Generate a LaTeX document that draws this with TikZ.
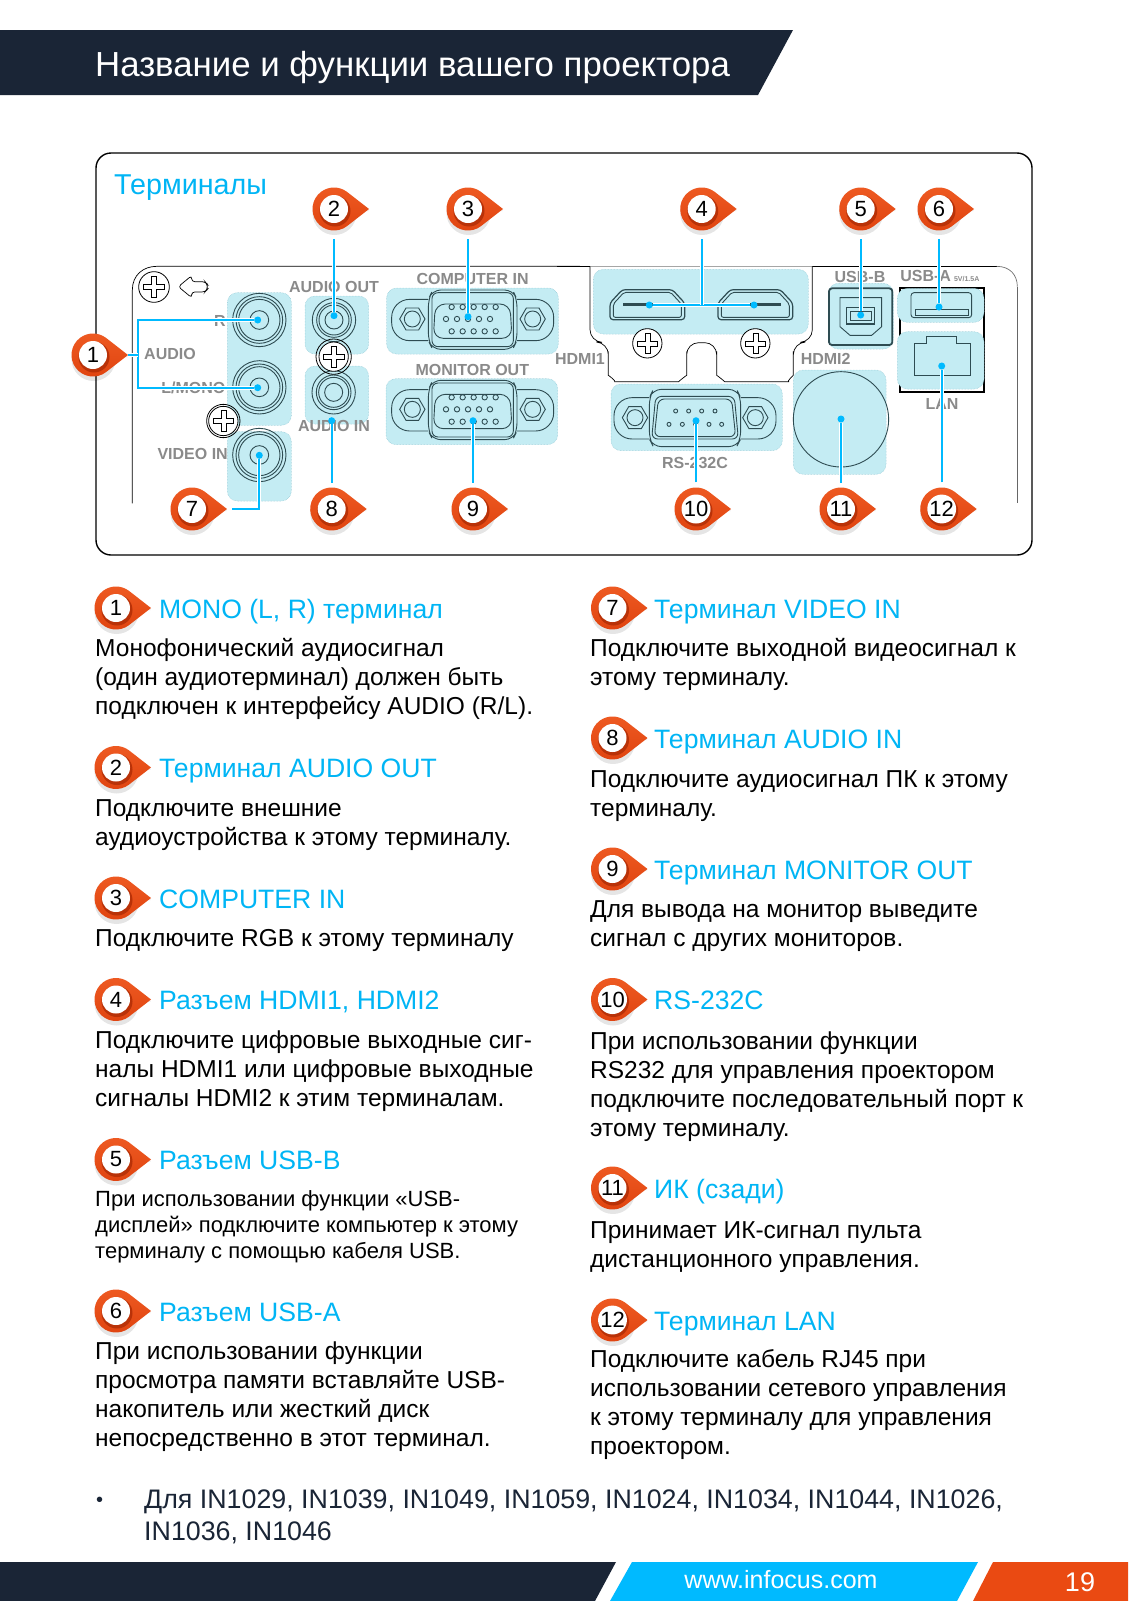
\documentclass[tikz,border=0pt]{standalone}
\usepackage{fontspec}
\setmainfont{Liberation Sans}
\definecolor{navy}{HTML}{1A2536}
\definecolor{skyblue}{HTML}{00BAFF}
\definecolor{headblue}{HTML}{00B5F5}
\definecolor{flame}{HTML}{EA4A12}
\definecolor{flamehi}{HTML}{EE5A22}
\definecolor{flamelo}{HTML}{DF430F}
\definecolor{flamedark}{HTML}{B93208}
\definecolor{patchblue}{HTML}{C4ECF3}
\definecolor{patchedge}{HTML}{8CC6D2}
\definecolor{porteal}{HTML}{2E4C52}
\definecolor{labelgray}{HTML}{8A8A8A}
\tikzset{
  inpanel/.style={scale=1/3},
  pintext/.style={circle,fill=white,minimum size=28pt,inner sep=0pt,font=\fontsize{22}{22}\selectfont},
  leader/.style={draw=white,double=skyblue,double distance=1.7pt,line width=1.2pt},
  jackdot/.style={circle,fill=skyblue,minimum size=7pt,inner sep=0pt},
  patch/.style={fill=patchblue,draw=patchedge,densely dotted,line width=.5pt,rounded corners=10pt},
  portline/.style={draw=porteal,line width=.9pt},
  panellabel/.style={font=\fontsize{16}{16}\selectfont\bfseries,text=labelgray,inner sep=0pt},
  headtext/.style={font=\fontsize{26.6}{30}\selectfont,text=headblue,anchor=base west,inner sep=0pt},
  bodytext/.style={font=\fontsize{24.5}{29}\selectfont,anchor=north west,align=left,inner sep=0pt,
    execute at begin node={\rule{0pt}{19pt}}},
  smalltext/.style={font=\fontsize{22}{26}\selectfont,anchor=north west,align=left,inner sep=0pt,
    execute at begin node={\rule{0pt}{19pt}}},
  notetext/.style={font=\fontsize{26.8}{32}\selectfont,text=navy,anchor=north west,align=left,inner sep=0pt,
    execute at begin node={\rule{0pt}{22pt}}},
  screwhead/.pic={
    \draw[line width=.8pt,fill=white] (0,0) circle (1);
    \draw[line width=.6pt] (-.17,-.7)--(.17,-.7)--(.17,-.17)--(.7,-.17)--(.7,.17)--(.17,.17)
      --(.17,.7)--(-.17,.7)--(-.17,.17)--(-.7,.17)--(-.7,-.17)--(-.17,-.17)--cycle;
  },
  rcajack/.pic={
    \draw[portline] (0,0) circle (80);
    \draw[portline] (0,0) circle (70);
    \draw[portline] (0,0) circle (62);
    \draw[portline] (0,0) circle (28);
  },
  miniplug/.pic={
    \draw[portline] (0,0) circle (65);
    \draw[portline] (0,0) circle (52);
    \draw[portline] (0,0) circle (45);
    \draw[portline] (0,0) circle (27);
  },
  hexnut/.pic={
    \draw[portline] (0:38)--(60:38)--(120:38)--(180:38)--(240:38)--(300:38)--cycle;
    \draw[portline] (0,0) circle (24);
  },
  vgaport/.pic={
    \draw[portline,rounded corners=18pt] (-133,-62)--(-243,-62)--(-243,62)--(-133,62);
    \draw[portline,rounded corners=18pt] (133,-62)--(243,-62)--(243,62)--(133,62);
    \draw[portline,rounded corners=8pt] (-133,-62)--(-120,-90)--(120,-90)--(133,-62)--(133,62)--(120,88)--(-120,88)--(-133,62)--cycle;
    \draw[portline,rounded corners=6pt] (-122,-82)--(122,-82)--(122,80)--(-122,80)--cycle;
    \draw[portline,rounded corners=10pt] (-112,-48)--(112,-48)--(118,55)--(-118,55)--cycle;
    \pic[inpanel] at (-181,-3) {hexnut};
    \pic[inpanel] at (180,-3) {hexnut};
    \foreach \px in {-63,-30,3,36,69} {
      \draw[portline] (\px,-39) circle (8);
      \draw[portline] (\px,34) circle (8);
    }
    \foreach \px in {-80,-47,-14,19,52} {
      \draw[portline] (\px,-3) circle (8);
    }
  },
  serialport/.pic={
    \draw[portline,rounded corners=18pt] (-137,-62)--(-243,-62)--(-243,62)--(-137,62);
    \draw[portline,rounded corners=18pt] (137,-62)--(243,-62)--(243,62)--(137,62);
    \draw[portline,rounded corners=8pt] (-137,-62)--(-125,-87)--(125,-87)--(137,-62)--(137,62)--(125,85)--(-125,85)--(-137,62)--cycle;
    \draw[portline,rounded corners=6pt] (-118,-66)--(118,-66)--(130,62)--(-130,62)--cycle;
    \draw[portline,rounded corners=6pt] (-110,-58)--(110,-58)--(122,55)--(-122,55)--cycle;
    \pic[inpanel] at (-180,-2) {hexnut};
    \pic[inpanel] at (181,-2) {hexnut};
    \foreach \px in {-58,-19,20,60} {
      \draw[portline] (\px,-22) circle (6);
    }
    \foreach \px in {-78,-38,2,42,80} {
      \draw[portline] (\px,18) circle (6);
    }
  },
  hdmiport/.pic={
    \draw[portline,line width=1.2pt,rounded corners=3pt] (-112,45)--(-112,-5)--(-75,-45)--(75,-45)--(112,-5)--(112,45)--cycle;
    \draw[portline,rounded corners=2pt] (-102,38)--(-102,-2)--(-70,-37)--(70,-37)--(102,-2)--(102,38)--cycle;
    \fill[porteal] (-72,-5) rectangle (78,5);
  }
}
\newcommand{\pinat}[4]{%
  \fill[black,opacity=.10] (#2+.5,#3+4) circle (22);
  \fill[black,opacity=.08] (#2+1,#3+2) -- ++(34,0) -- ++(-22,-17) -- cycle;
  \path[top color=flamehi,bottom color=flamelo,shift={(#2,#3)}] (35,0) -- (53:21.5) arc (53:307:21.5) -- cycle;
  \fill[flamedark] (#2+1,#3+2) circle (15.5);
  \node[pintext] (#1) at (#2,#3) {#4};
}
\begin{document}
\begin{tikzpicture}[x=1pt,y=-1pt,line cap=butt]
  \useasboundingbox (0,0) rectangle (1128,1601);
  \fill[white] (0,0) rectangle (1128,1601);

  % header and footer
  \fill[navy] (0,30)--(793,30)--(758,95)--(0,95)--cycle;
  \node[anchor=base west,inner sep=0pt,text=white,font=\fontsize{34.8}{36}\selectfont] (title) at (95,76) {Название и функции вашего проектора};
  \fill[navy] (0,1562)--(616,1562)--(595,1601)--(0,1601)--cycle;
  \fill[skyblue] (632,1562)--(978,1562)--(957,1601)--(610,1601)--cycle;
  \fill[flame] (993,1562)--(1128,1562)--(1128,1601)--(973,1601)--cycle;
  \node[text=white,inner sep=0pt,font=\fontsize{25}{26}\selectfont] (site) at (781,1580) {www.infocus.com};
  \node[text=white,inner sep=0pt,font=\fontsize{27}{28}\selectfont] (page) at (1080,1582) {19};

  % panel
  \draw[line width=1.4pt,rounded corners=15pt] (96,153) rectangle (1032,555);
  \node[font=\fontsize{28.7}{30}\selectfont,text=headblue,anchor=base west,inner sep=0pt] (panelhead) at (114,194) {Терминалы};

  \begin{scope}[shift={(90,150)},scale=1/3]
    \draw[line width=.7pt] (127,1060)--(127,420) .. controls (127,375) and (160,349) .. (200,349)--(1470,349);
    \path[patch] (412,428) rectangle (604,826);
    \path[patch] (412,845) rectangle (604,1053);
    \path[patch] (645,438) rectangle (836,612);
    \path[patch] (645,648) rectangle (836,822);
    \path[patch] (890,414) rectangle (1405,612);
    \path[patch] (888,686) rectangle (1403,884);
    \pic[inpanel] at (508,510) {rcajack};
    \pic[inpanel] at (508,712) {rcajack};
    \pic[inpanel] at (508,915) {rcajack};
    \pic[inpanel] at (732,510) {miniplug};
    \pic[inpanel] at (731,727) {miniplug};
    \pic[inpanel] at (1148,510) {vgaport};
    \pic[inpanel] at (1148,781) {vgaport};
    \pic[scale=46/3] at (192,411) {screwhead};
    \pic[scale=44/3] at (400,813) {screwhead};
    \draw[line width=.8pt] (400,813) circle (50);
    \pic[scale=44/3] at (731,620) {screwhead};
    \draw[line width=.8pt] (731,620) circle (53);
    \draw[line width=.7pt,rounded corners=3pt] (265,410)--(305,377)--(305,395)--(345,395)--(352,403)--(352,418)--(345,426)--(305,426)--(305,443)--cycle;
    \node[panellabel] (lbaudout) at (732,410) {AUDIO OUT};
    \node[panellabel] (lbcomp) at (1148,387) {COMPUTER IN};
    \node[panellabel] (lbmon) at (1147,660) {MONITOR OUT};
    \node[panellabel] (lbaudio) at (240,612) {AUDIO};
    \node[panellabel] (lbr) at (390,512) {R};
    \node[panellabel] (lbmono) at (310,713) {L/MONO};
    \node[panellabel] (lbvideo) at (308,913) {VIDEO IN};
    \node[panellabel] (lbaudin) at (732,828) {AUDIO IN};
  \end{scope}

  \begin{scope}[shift={(560,150)},scale=1/3]
    \draw[line width=.7pt] (-10,349)--(1310,349);
    \draw[line width=.7pt,labelgray!120] (1310,349) .. controls (1350,349) and (1372,375) .. (1372,410);
    \draw[line width=1.2pt,black!60] (1372,410)--(1372,1060);
    \draw[line width=.7pt,fill=white,rounded corners=12pt] (90,349)--(90,575)--(145,578)--(145,640)
      .. controls (145,675) and (170,695) .. (200,695)--(320,695)
      .. controls (355,695) and (380,675) .. (380,640)--(380,578)--(470,578)--(470,640)
      .. controls (470,675) and (495,695) .. (530,695)--(650,695)
      .. controls (680,695) and (700,675) .. (700,640)--(700,578)--(757,575)--(757,349);
    \path[patch] (100,358) rectangle (745,552);
    \pic[inpanel] at (262,464) {hdmiport};
    \pic[inpanel] at (586,464) {hdmiport};
    \pic[scale=44/3] at (262,580) {screwhead};
    \pic[scale=44/3] at (586,580) {screwhead};
    \path[patch] (805,400) rectangle (1000,597);
    \draw[draw=porteal,line width=1.8pt,rounded corners=3pt] (807,415) rectangle (997,585);
    \draw[portline] (840,443)--(965,443)--(965,530)--(935,556)--(870,556)--(840,530)--cycle;
    \draw[portline,line width=1.1pt] (860,473) rectangle (943,522);
    \draw[portline] (870,483) rectangle (933,512);
    \draw[line width=2pt] (1020,413) rectangle (1272,725);
    \path[patch] (1012,415) rectangle (1272,517);
    \path[patch] (1012,545) rectangle (1272,717);
    \draw[portline,rounded corners=3pt] (1053,428) rectangle (1235,503);
    \draw[portline] (1066,477) rectangle (1226,497);
    \draw[portline] (1063,580)--(1100,580)--(1100,558)--(1190,558)--(1190,580)--(1230,580)--(1230,675)--(1063,675)--cycle;
    \path[patch] (153,702) rectangle (667,902);
    \pic[inpanel] at (405,805) {serialport};
    \path[patch] (700,660) rectangle (978,973);
    \draw[portline] (843,808) circle (143);
    \node[panellabel] (lbhdmia) at (60,628) {HDMI1};
    \node[panellabel] (lbhdmib) at (797,628) {HDMI2};
    \node[panellabel] (lbusbb) at (900,380) {USB-B};
    \node[panellabel] (lbusba) at (1097,378) {USB-A};
    \node[panellabel,font=\fontsize{7}{8}\selectfont\bfseries] (lbamps) at (1220,386) {5V/1.5A};
    \node[panellabel] (lblan) at (1146,762) {LAN};
    \node[panellabel] (lbrs) at (405,938) {RS-232C};
  \end{scope}

  % pins on the panel
  \pinat{p1}{93}{355}{1}
  \pinat{p2}{334}{209}{2}
  \pinat{p3}{468}{209}{3}
  \pinat{p4}{701.7}{209}{4}
  \pinat{p5}{860.7}{209}{5}
  \pinat{p6}{939}{209}{6}
  \pinat{p7}{192}{509}{7}
  \pinat{p8}{331.7}{509}{8}
  \pinat{p9}{473}{509}{9}
  \pinat{p10}{696}{509}{10}
  \pinat{p11}{841}{509}{11}
  \pinat{p12}{941.7}{509}{12}

  % leaders
  \node[jackdot] (d1a) at (257.7,320) {};
  \node[jackdot] (d1b) at (257.7,387.7) {};
  \node[jackdot] (d2) at (334,315.7) {};
  \node[jackdot] (d3) at (468,316.7) {};
  \node[jackdot] (d4a) at (649.3,305) {};
  \node[jackdot] (d4b) at (754,305) {};
  \node[jackdot] (d5) at (860.7,315) {};
  \node[jackdot] (d6) at (939,307) {};
  \node[jackdot] (d7) at (259.3,455.3) {};
  \node[jackdot] (d8) at (331.7,420.7) {};
  \node[jackdot] (d9) at (473,420.7) {};
  \node[jackdot] (d10) at (696,420.7) {};
  \node[jackdot] (d11) at (841,419) {};
  \node[jackdot] (d12) at (941.7,366) {};
  \coordinate (aud) at (137.7,355);
  \coordinate (hdm) at (701.7,305);
  \draw[leader] (d1a) -| (aud) |- (d1b);
  \draw[leader,shorten <=21pt] (p1) -- (aud);
  \draw[leader] (d4a) -- (d4b);
  \foreach \n in {2,3,5,6} {
    \draw[leader,shorten <=16pt] (p\n) -- (d\n);
  }
  \draw[leader,shorten <=16pt] (p4) -- (hdm);
  \foreach \n in {8,9,10,11,12} {
    \draw[leader,shorten <=12pt] (p\n) -- (d\n);
  }
  \draw[leader,shorten <=26pt] (p7) -| (d7);

  % left column
  \pinat{l1}{116}{608}{1}
  \pinat{l2}{116}{767.5}{2}
  \pinat{l3}{116}{898}{3}
  \pinat{l4}{116}{999.5}{4}
  \pinat{l5}{116}{1159.5}{5}
  \pinat{l6}{116}{1311}{6}
  \node[headtext] (h1) at (159,618) {MONO (L, R) терминал};
  \node[headtext] (h2) at (159,777.5) {Терминал AUDIO OUT};
  \node[headtext] (h3) at (159,908) {COMPUTER IN};
  \node[headtext] (h4) at (159,1009.5) {Разъем HDMI1, HDMI2};
  \node[headtext] (h5) at (159,1169.5) {Разъем USB-B};
  \node[headtext] (h6) at (159,1321) {Разъем USB-A};
  \node[bodytext] (b1) at (95,638) {Монофонический аудиосигнал\\(один аудиотерминал) должен быть\\подключен к интерфейсу AUDIO (R/L).};
  \node[bodytext] (b2) at (95,799.5) {Подключите внешние\\аудиоустройства к этому терминалу.};
  \node[bodytext] (b3) at (95,927.5) {Подключите RGB к этому терминалу};
  \node[bodytext] (b4) at (95,1031) {Подключите цифровые выходные сиг-\\налы HDMI1 или цифровые выходные\\сигналы HDMI2 к этим терминалам.};
  \node[smalltext] (b5) at (95,1190) {При использовании функции «USB-\\дисплей» подключите компьютер к этому\\терминалу с помощью кабеля USB.};
  \node[bodytext] (b6) at (95,1341.5) {При использовании функции\\просмотра памяти вставляйте USB-\\накопитель или жесткий диск\\непосредственно в этот терминал.};

  % right column
  \pinat{l7}{612.5}{608}{7}
  \pinat{l8}{612.5}{738}{8}
  \pinat{l9}{612.5}{869}{9}
  \pinat{l10}{612.5}{999.5}{10}
  \pinat{l11}{612.5}{1188}{11}
  \pinat{l12}{612.5}{1320}{12}
  \node[headtext] (h7) at (654,618) {Терминал VIDEO IN};
  \node[headtext] (h8) at (654,748) {Терминал AUDIO IN};
  \node[headtext] (h9) at (654,879) {Терминал MONITOR OUT};
  \node[headtext] (h10) at (654,1009.5) {RS-232C};
  \node[headtext] (h11) at (654,1198) {ИК (сзади)};
  \node[headtext] (h12) at (654,1330) {Терминал LAN};
  \node[bodytext] (b7) at (590,638) {Подключите выходной видеосигнал к\\этому терминалу.};
  \node[bodytext] (b8) at (590,770) {Подключите аудиосигнал ПК к этому\\терминалу.};
  \node[bodytext] (b9) at (590,900.5) {Для вывода на монитор выведите\\сигнал с других мониторов.};
  \node[bodytext] (b10) at (590,1032) {При использовании функции\\RS232 для управления проектором\\подключите последовательный порт к\\этому терминалу.};
  \node[bodytext] (b11) at (590,1221) {Принимает ИК-сигнал пульта\\дистанционного управления.};
  \node[bodytext] (b12) at (590,1349.7) {Подключите кабель RJ45 при\\использовании сетевого управления\\к этому терминалу для управления\\проектором.};

  % note at the foot
  \node[notetext,font=\fontsize{20}{32}\selectfont] (bullet) at (96,1484) {•};
  \node[notetext] (note) at (144,1490) {Для IN1029, IN1039, IN1049, IN1059, IN1024, IN1034, IN1044, IN1026,\\IN1036, IN1046};
\end{tikzpicture}
\end{document}
